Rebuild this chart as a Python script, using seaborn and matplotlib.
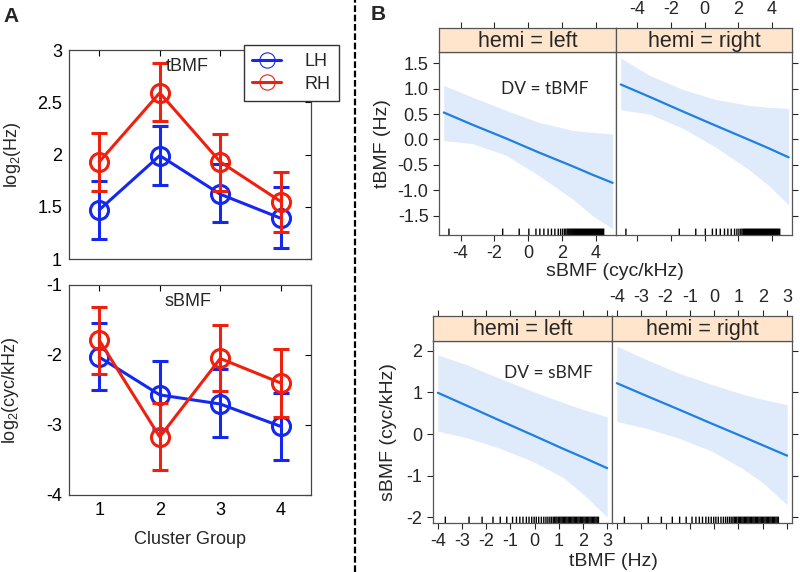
import numpy as np
import matplotlib
matplotlib.use("Agg")
import matplotlib.pyplot as plt
from matplotlib.lines import Line2D
from matplotlib.ticker import FormatStrFormatter
import seaborn as sns


# Data - panel A (cluster group means and error bar ends)

clusters = [1, 2, 3, 4]

tbmf_lh = [1.47, 1.99, 1.62, 1.39]
tbmf_lh_lo = [1.19, 1.71, 1.35, 1.11]
tbmf_lh_hi = [1.75, 2.27, 1.91, 1.69]
tbmf_rh = [1.93, 2.59, 1.93, 1.55]
tbmf_rh_lo = [1.65, 2.32, 1.65, 1.26]
tbmf_rh_hi = [2.21, 2.88, 2.20, 1.83]

sbmf_lh = [-2.03, -2.57, -2.70, -3.02]
sbmf_lh_lo = [-2.50, -3.06, -3.17, -3.50]
sbmf_lh_hi = [-1.54, -2.08, -2.20, -2.54]
sbmf_rh = [-1.79, -3.17, -2.05, -2.40]
sbmf_rh_lo = [-2.27, -3.64, -2.52, -2.88]
sbmf_rh_hi = [-1.31, -2.69, -1.57, -1.91]


# Data - panel B (effect lines with confidence bands)

sbmf_x = [-5.0, -3.3, -1.3, 0.6, 2.6, 3.8, 5.0]
fit_left_t = [0.53, 0.29, 0.02, -0.25, -0.52, -0.69, -0.85]
lo_left_t = [-0.02, -0.08, -0.31, -0.70, -1.16, -1.49, -1.75]
hi_left_t = [1.06, 0.83, 0.57, 0.34, 0.18, 0.14, 0.11]
fit_right_t = [1.08, 0.84, 0.55, 0.28, 0.00, -0.17, -0.35]
lo_right_t = [0.58, 0.50, 0.22, -0.14, -0.58, -0.90, -1.28]
hi_right_t = [1.60, 1.26, 0.98, 0.79, 0.67, 0.63, 0.61]

tbmf_x = [-4.0, -2.8, -1.5, -0.1, 1.2, 2.0, 3.0]
fit_left_s = [0.99, 0.68, 0.34, -0.02, -0.36, -0.56, -0.82]
lo_left_s = [0.07, -0.09, -0.33, -0.65, -1.05, -1.44, -1.99]
hi_left_s = [1.90, 1.66, 1.35, 1.03, 0.75, 0.59, 0.41]
fit_right_s = [1.22, 0.92, 0.60, 0.25, -0.07, -0.27, -0.52]
lo_right_s = [0.30, 0.14, -0.09, -0.41, -0.84, -1.17, -1.70]
hi_right_s = [2.11, 1.79, 1.47, 1.19, 0.95, 0.83, 0.71]

# rug of observed predictor values
sbmf_rug = [-4.69, -1.51, -0.53, 0.04, 0.46, 0.69, 0.93, 1.18, 1.38, 1.58,
            1.78, 1.92, 2.04, 2.15, 2.23, 2.31, 2.37, 2.43, 2.49, 2.55,
            2.61, 2.67, 2.73, 2.79, 2.85, 2.91, 2.97, 3.03, 3.09, 3.15,
            3.21, 3.27, 3.33, 3.39, 3.45, 3.51, 3.57, 3.63, 3.69, 3.75,
            3.81, 3.87, 3.93, 3.99, 4.05, 4.11, 4.17, 4.23, 4.29, 4.35,
            4.41, 4.47]
tbmf_rug = [-3.69, -2.71, -2.17, -1.72, -1.42, -1.15, -0.91, -0.75, -0.61,
            -0.48, -0.34, -0.23, -0.12, -0.02, 0.07, 0.17, 0.28, 0.38, 0.47,
            0.55, 0.63, 0.70, 0.77, 0.83, 0.88, 0.93, 0.99, 1.04, 1.09, 1.14,
            1.19, 1.24, 1.29, 1.34, 1.39, 1.44, 1.49, 1.54, 1.59, 1.64, 1.69,
            1.74, 1.79, 1.84, 1.89, 1.94, 1.99, 2.04, 2.09, 2.14, 2.19, 2.24,
            2.29, 2.34, 2.39, 2.44, 2.49, 2.54, 2.59, 2.64]


# Style

sns.set_style("white")
plt.rcParams["font.family"] = ["Liberation Sans", "DejaVu Sans"]
plt.rcParams["mathtext.default"] = "regular"
plt.rcParams["axes.unicode_minus"] = False

blue = "#1428f0"
red = "#f0200f"
band_color = "#dfebfb"
fit_color = "#1f80e0"
strip_color = "#ffe5cc"
frame_color = "#555555"

fig = plt.figure(figsize=(8, 5.72), dpi=100)


# Panel A

def cluster_panel(ax, lh, lh_lo, lh_hi, rh, rh_lo, rh_hi):
    for mean, lo, hi, col in [(lh, lh_lo, lh_hi, blue), (rh, rh_lo, rh_hi, red)]:
        mean = np.array(mean)
        yerr = [mean - np.array(lo), np.array(hi) - mean]
        ax.errorbar(clusters, mean, yerr=yerr, fmt="none", ecolor=col,
                    elinewidth=2.2, capsize=5.8, capthick=2.2)
        sns.lineplot(x=clusters, y=mean, color=col, lw=2.2, marker="o",
                     markersize=13, markerfacecolor="none",
                     markeredgecolor=col, markeredgewidth=2.2,
                     errorbar=None, ax=ax)
    ax.set_xlim(0.5, 4.5)
    ax.set_xticks(clusters)
    ax.tick_params(direction="in", top=True, right=True, length=4,
                   width=0.8, labelsize=13, colors="black", pad=5)
    for s in ax.spines.values():
        s.set_color("#444444")
        s.set_linewidth(0.9)
    ax.set_xlabel("")
    ax.set_ylabel("")


ax_a1 = fig.add_axes([0.08625, 0.5472, 0.3025, 0.36538])
cluster_panel(ax_a1, tbmf_lh, tbmf_lh_lo, tbmf_lh_hi,
              tbmf_rh, tbmf_rh_lo, tbmf_rh_hi)
ax_a1.set_ylim(1, 3)
ax_a1.set_yticks([1, 1.5, 2, 2.5, 3])
ax_a1.set_yticklabels(["1", "1.5", "2", "2.5", "3"])
ax_a1.tick_params(labelbottom=False)
ax_a1.set_ylabel("log$_2$(Hz)", fontsize=13)
ax_a1.yaxis.set_label_coords(-0.19, 0.5)
ax_a1.text(0.49, 0.92, "tBMF", transform=ax_a1.transAxes,
           ha="center", va="center", fontsize=13)

handles = [
    Line2D([], [], color=blue, lw=2.2, marker="o", markersize=11,
           markerfacecolor="none", markeredgewidth=0.8),
    Line2D([], [], color=red, lw=2.2, marker="o", markersize=11,
           markerfacecolor="none", markeredgewidth=0.8),
]
fig.legend(handles, ["LH", "RH"], loc="upper left",
           bbox_to_anchor=(244 / 800, 1 - 45 / 572), fontsize=13,
           frameon=True, fancybox=False, edgecolor="#333333",
           framealpha=1, handlelength=1.6, borderpad=0.45,
           labelspacing=0.3, handletextpad=1.3, borderaxespad=0)

ax_a2 = fig.add_axes([0.08625, 0.13462, 0.3025, 0.36713])
cluster_panel(ax_a2, sbmf_lh, sbmf_lh_lo, sbmf_lh_hi,
              sbmf_rh, sbmf_rh_lo, sbmf_rh_hi)
ax_a2.set_ylim(-4, -1)
ax_a2.set_yticks([-4, -3, -2, -1])
ax_a2.set_ylabel("log$_2$(cyc/kHz)", fontsize=13)
ax_a2.yaxis.set_label_coords(-0.2, 0.5)
ax_a2.set_xlabel("Cluster Group", fontsize=13)
ax_a2.xaxis.set_label_coords(0.5, -0.17)
ax_a2.text(0.49, 0.92, "sBMF", transform=ax_a2.transAxes,
           ha="center", va="center", fontsize=13)


# Panel B

def effect_panel(rect, strip_h, x, fit, lo, hi, rug, xlim, ylim, xticks,
                 yticks, label, side, fmt):
    ax = fig.add_axes(rect)
    ax.fill_between(x, lo, hi, color=band_color, lw=0)
    sns.lineplot(x=x, y=fit, color=fit_color, lw=1.6, errorbar=None, ax=ax)
    sns.rugplot(x=rug, height=0.035, color="black", lw=1.3,
                expand_margins=False, ax=ax)
    for coll in ax.collections[1:]:
        coll.set_snap(False)
    ax.set_xlim(xlim)
    ax.set_ylim(ylim)
    ax.set_xticks(xticks)
    ax.set_yticks(yticks)
    ax.yaxis.set_major_formatter(FormatStrFormatter(fmt))
    left = side == "left"
    ax.tick_params(axis="x", direction="out", length=4, width=0.8,
                   bottom=True, top=False, labelbottom=left, labelsize=13)
    ax.tick_params(axis="y", direction="out", length=4, width=0.8,
                   left=left, right=not left, labelleft=left,
                   labelright=False, labelsize=13)
    for s in ax.spines.values():
        s.set_color(frame_color)
        s.set_linewidth(0.9)
    ax.set_xlabel("")
    ax.set_ylabel("")

    st = fig.add_axes([rect[0], rect[1] + rect[3], rect[2], strip_h])
    st.set_facecolor(strip_color)
    st.set_xlim(xlim)
    st.set_xticks(xticks)
    st.set_yticks([])
    st.tick_params(axis="x", direction="out", length=4, width=0.8,
                   top=True, bottom=False, labeltop=not left,
                   labelbottom=False, labelsize=13)
    for s in st.spines.values():
        s.set_color(frame_color)
        s.set_linewidth(0.9)
    st.text(0.5, 0.45, label, transform=st.transAxes, ha="center",
            va="center", fontsize=15.5)
    return ax


top_xlim = (-5.28, 5.2)
top_ylim = (-1.873, 1.716)
top_yticks = [-1.5, -1.0, -0.5, 0.0, 0.5, 1.0, 1.5]
bt_xlim = (-4.2, 3.2)
bt_ylim = (-2.137, 2.233)

ax_b1 = effect_panel([0.54875, 0.58916, 0.22125, 0.31993], 0.04196,
                     sbmf_x, fit_left_t, lo_left_t, hi_left_t, sbmf_rug,
                     top_xlim, top_ylim, [-4, -2, 0, 2, 4], top_yticks,
                     "hemi = left", "left", "%.1f")
ax_b2 = effect_panel([0.77, 0.58916, 0.22, 0.31993], 0.04196,
                     sbmf_x, fit_right_t, lo_right_t, hi_right_t, sbmf_rug,
                     top_xlim, top_ylim, [-4, -2, 0, 2, 4], top_yticks,
                     "hemi = right", "right", "%.1f")
ax_b3 = effect_panel([0.54125, 0.08566, 0.22375, 0.31818], 0.04371,
                     tbmf_x, fit_left_s, lo_left_s, hi_left_s, tbmf_rug,
                     bt_xlim, bt_ylim, [-4, -3, -2, -1, 0, 1, 2, 3],
                     [-2, -1, 0, 1, 2], "hemi = left", "left", "%d")
ax_b4 = effect_panel([0.765, 0.08566, 0.225, 0.31818], 0.04371,
                     tbmf_x, fit_right_s, lo_right_s, hi_right_s, tbmf_rug,
                     bt_xlim, bt_ylim, [-4, -3, -2, -1, 0, 1, 2, 3],
                     [-2, -1, 0, 1, 2], "hemi = right", "right", "%d")

ax_b1.text(0.595, 0.80, "DV = tBMF", transform=ax_b1.transAxes,
           ha="center", va="center", fontsize=12.5, family="Lato")
ax_b3.text(0.644, 0.826, "DV = sBMF", transform=ax_b3.transAxes,
           ha="center", va="center", fontsize=12.5, family="Lato")

ax_b1.set_ylabel("tBMF (Hz)", fontsize=14)
ax_b1.yaxis.set_label_coords(-0.27, 0.5)
ax_b3.set_ylabel("sBMF (cyc/kHz)", fontsize=14)
ax_b3.yaxis.set_label_coords(-0.2, 0.5)

fig.text(615 / 800, 1 - 272 / 572, "sBMF (cyc/kHz)", ha="center",
         va="center", fontsize=14)
fig.text(613 / 800, 1 - 561 / 572, "tBMF (Hz)", ha="center",
         va="center", fontsize=14)


# Panel letters and separator

fig.text(11.5 / 800, 1 - 17 / 572, "A", fontsize=15, fontweight="bold",
         ha="center", va="center")
fig.text(378 / 800, 1 - 14 / 572, "B", fontsize=15, fontweight="bold",
         ha="center", va="center")

fig.add_artist(Line2D([355 / 800, 355 / 800], [0, 1],
                      transform=fig.transFigure, color="black", lw=1.6,
                      linestyle=(0, (3.0, 1.2))))

fig.savefig("out.png", dpi=100)
